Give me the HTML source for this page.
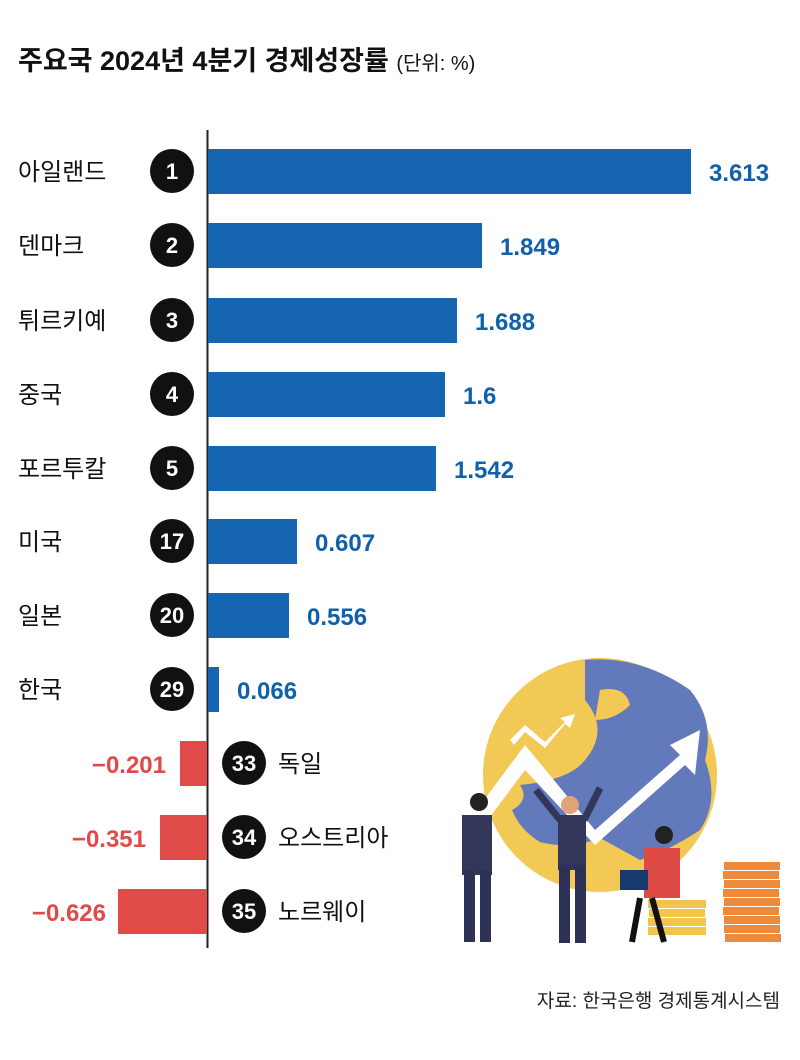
<!DOCTYPE html>
<html><head><meta charset="utf-8"><style>
body{margin:0;background:#fff;width:800px;height:1055px;overflow:hidden;font-family:"Liberation Sans","Noto Sans CJK KR",sans-serif}
</style></head><body>
<svg width="800" height="1055" xmlns="http://www.w3.org/2000/svg" font-family="Liberation Sans, Noto Sans CJK KR, sans-serif">
<text x="18" y="70" font-size="27" font-weight="bold" fill="#111">주요국 2024년 4분기 경제성장률 <tspan font-size="20" font-weight="normal">(단위: %)</tspan></text>
<g>
<circle cx="600" cy="775" r="117" fill="#f3c955"/>
<path d="M585 660 Q640 655 690 690 Q715 720 705 760 Q720 800 700 830 Q670 850 640 860 L600 838 Q570 850 540 842 Q520 830 512 810 Q530 800 520 785 Q570 780 585 760 Q610 730 585 700 Z" fill="#6279bb"/>
<path d="M600 690 Q625 685 630 705 Q615 720 595 720 Z" fill="#f3c955"/>
<path d="M484 800 L525 745 L595 830 L680 755 L670 745 L700 730 L695 775 L685 765 L595 845 L525 770 L484 825 Z" fill="#fff"/>
<path d="M510 740 L525 725 L545 742 L565 722 L560 718 L575 714 L570 728 L565 724 L545 748 L525 732 L514 745 Z" fill="#fff"/>
<rect x="462" y="815" width="30" height="60" fill="#323658"/>
<rect x="464" y="870" width="11" height="72" fill="#2d3155"/><rect x="480" y="870" width="11" height="72" fill="#2d3155"/>
<circle cx="479" cy="802" r="9" fill="#222"/>
<rect x="558" y="815" width="28" height="55" fill="#323658"/>
<rect x="559" y="865" width="11" height="78" fill="#2d3155"/><rect x="575" y="865" width="11" height="78" fill="#2d3155"/>
<circle cx="570" cy="805" r="9" fill="#e0a27a"/>
<line x1="560" y1="820" x2="536" y2="790" stroke="#323658" stroke-width="7"/>
<line x1="584" y1="820" x2="600" y2="788" stroke="#323658" stroke-width="7"/>
<rect x="644" y="848" width="36" height="50" fill="#e04a44"/>
<circle cx="664" cy="835" r="9" fill="#222"/>
<rect x="620" y="870" width="28" height="20" fill="#18396e"/>
<g fill="#f1c54c"><rect x="648" y="900" width="58" height="8"/><rect x="649" y="909" width="56" height="8"/><rect x="648" y="918" width="58" height="8"/><rect x="648" y="927" width="58" height="8"/></g>
<line x1="640" y1="898" x2="632" y2="942" stroke="#111" stroke-width="6"/><line x1="652" y1="898" x2="664" y2="942" stroke="#111" stroke-width="6"/>
<g fill="#ee8a3c"><rect x="724" y="862" width="56" height="8"/><rect x="723" y="871" width="56" height="8"/><rect x="724" y="880" width="56" height="8"/><rect x="723" y="889" width="56" height="8"/><rect x="724" y="898" width="56" height="8"/><rect x="723" y="907" width="56" height="8"/><rect x="724" y="916" width="56" height="8"/><rect x="724" y="925" width="56" height="8"/><rect x="725" y="934" width="56" height="8"/></g>
</g>
<line x1="207.5" y1="130" x2="207.5" y2="948" stroke="#222" stroke-width="2"/>
<g font-size="24" fill="#111">
<text x="18" y="180">아일랜드</text><text x="18" y="254">덴마크</text><text x="18" y="329">튀르키예</text><text x="18" y="403">중국</text><text x="18" y="477">포르투칼</text><text x="18" y="550">미국</text><text x="18" y="624">일본</text><text x="18" y="698">한국</text>
<text x="278" y="772">독일</text><text x="278" y="846">오스트리아</text><text x="278" y="920">노르웨이</text>
</g>
<g fill="#1565b0">
<rect x="208" y="149" width="483" height="45"/><rect x="208" y="223" width="274" height="45"/><rect x="208" y="298" width="249" height="45"/><rect x="208" y="372" width="237" height="45"/><rect x="208" y="446" width="228" height="45"/><rect x="208" y="519" width="89" height="45"/><rect x="208" y="593" width="81" height="45"/><rect x="208" y="667" width="11" height="45"/>
</g>
<g fill="#e04a48"><rect x="180" y="741" width="27" height="45"/><rect x="160" y="815" width="47" height="45"/><rect x="118" y="889" width="89" height="45"/></g>
<g font-size="24" font-weight="bold" fill="#1060ac">
<text x="709" y="181">3.613</text><text x="500" y="255">1.849</text><text x="475" y="330">1.688</text><text x="463" y="404">1.6</text><text x="454" y="478">1.542</text><text x="315" y="551">0.607</text><text x="307" y="625">0.556</text><text x="237" y="699">0.066</text>
</g>
<g font-size="24" font-weight="bold" fill="#e04a48" text-anchor="end">
<text x="166" y="773">−0.201</text><text x="146" y="847">−0.351</text><text x="106" y="921">−0.626</text>
</g>
<g fill="#111"><circle cx="172" cy="171" r="22"/><circle cx="172" cy="245" r="22"/><circle cx="172" cy="320" r="22"/><circle cx="172" cy="394" r="22"/><circle cx="172" cy="468" r="22"/><circle cx="172" cy="541" r="22"/><circle cx="172" cy="615" r="22"/><circle cx="172" cy="689" r="22"/><circle cx="244" cy="763" r="22"/><circle cx="244" cy="837" r="22"/><circle cx="244" cy="911" r="22"/></g>
<g font-size="22" font-weight="bold" fill="#fff" text-anchor="middle">
<text x="172" y="179">1</text><text x="172" y="253">2</text><text x="172" y="328">3</text><text x="172" y="402">4</text><text x="172" y="476">5</text><text x="172" y="549">17</text><text x="172" y="623">20</text><text x="172" y="697">29</text><text x="244" y="771">33</text><text x="244" y="845">34</text><text x="244" y="919">35</text>
</g>
<text x="780" y="1007" font-size="19" fill="#222" text-anchor="end">자료: 한국은행 경제통계시스템</text>
</svg>
</body></html>
